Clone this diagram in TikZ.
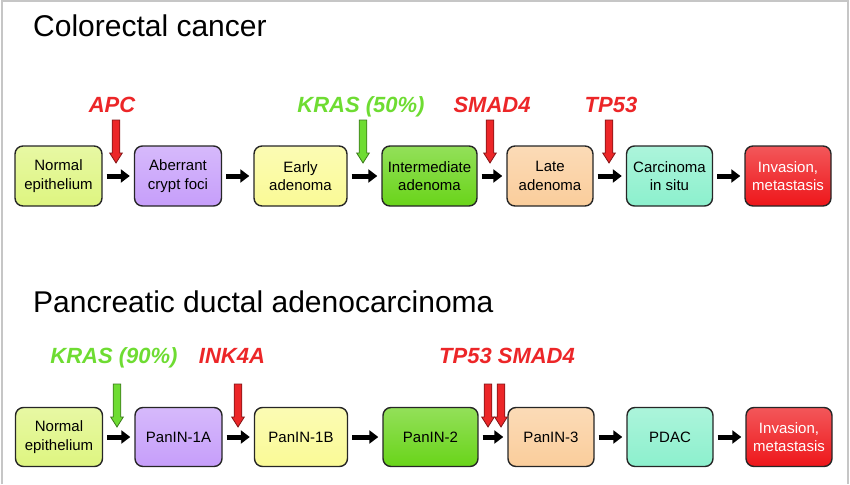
\documentclass[tikz,border=0pt]{standalone}
\usepackage{fontspec}
\setmainfont{Liberation Sans}
\usepackage{tikz}
\usetikzlibrary{calc,arrows.meta}
\usepackage{xcolor}

\definecolor{normcol}{RGB}{222,245,128}
\definecolor{acfcol}{RGB}{198,158,250}
\definecolor{earlycol}{RGB}{250,250,150}
\definecolor{midcol}{RGB}{105,212,25}
\definecolor{latecol}{RGB}{250,205,155}
\definecolor{situcol}{RGB}{140,240,205}
\definecolor{invcol}{RGB}{238,22,26}
\definecolor{hitred}{RGB}{236,38,40}
\definecolor{hitgreen}{RGB}{110,220,50}

\tikzset{
  stage/.style={draw=black!85, line width=1.4pt, rounded corners=8pt,
    minimum width=87pt, minimum height=60pt, inner sep=0pt, align=center,
    font=\fontsize{15}{18.5}\selectfont, top color=#1!72!white, bottom color=#1},
  flow/.style={-{Triangle[length=9pt,width=13pt]}, line width=5pt,
    shorten <=4pt, shorten >=4pt},
  hitlabel/.style={anchor=base, inner sep=0pt, text=#1,
    font=\fontsize{22}{24}\selectfont\bfseries\itshape},
  pics/hit/.style={code={
    \draw[draw=#1!55!black, fill=#1, line width=0.8pt, line join=miter]
      (-3.8,0)--(3.8,0)--(3.8,33)--(6.3,33)--(0,43)--(-6.3,33)--(-3.8,33)--cycle;}},
  heading/.style={anchor=base west, inner sep=0pt, font=\fontsize{30}{32}\selectfont}
}

\begin{document}
\begin{tikzpicture}[x=1pt,y=-1pt]
% row heights
\newcommand{\rowA}{176}
\newcommand{\rowB}{437}
\newcommand{\hitA}{120}
\newcommand{\hitB}{384}

% Frame
\useasboundingbox (0,0) rectangle (850,484);
\draw[gray!45, line width=1.5pt] (2,484)--(2,1)--(848,1)--(848,484);

% Colorectal cancer
\node[heading] (crc) at (33,37) {Colorectal cancer};
\node[stage=normcol] (crcA) at (58.5,\rowA) {Normal\\epithelium};
\node[stage=acfcol] (crcB) at (178,\rowA) {Aberrant\\crypt foci};
\node[stage=earlycol, minimum width=93pt] (crcC) at (300.5,\rowA) {Early\\adenoma};
\node[stage=midcol, minimum width=95pt] (crcD) at (429.5,\rowA) {Intermediate\\adenoma};
\node[stage=latecol, minimum width=86pt] (crcE) at (550,\rowA) {Late\\adenoma};
\node[stage=situcol, minimum width=86pt] (crcF) at (669.5,\rowA) {Carcinoma\\in situ};
\node[stage=invcol, text=white, minimum width=86pt] (crcG) at (788,\rowA) {Invasion,\\metastasis};
\draw[flow] (crcA)--(crcB);
\draw[flow] (crcB)--(crcC);
\draw[flow] (crcC)--(crcD);
\draw[flow] (crcD)--(crcE);
\draw[flow] (crcE)--(crcF);
\draw[flow] (crcF)--(crcG);
% Mutations
\node[hitlabel=hitred] (apc) at (112,112) {APC};
\pic (apcArr) at (116,\hitA) {hit=hitred};
\node[hitlabel=hitgreen] (krasA) at (361,112) {KRAS (50\%)};
\pic (krasAArr) at (363,\hitA) {hit=hitgreen};
\node[hitlabel=hitred] (smadA) at (492,112) {SMAD4};
\pic (smadAArr) at (490,\hitA) {hit=hitred};
\node[hitlabel=hitred] (tpA) at (611,112) {TP53};
\pic (tpAArr) at (609,\hitA) {hit=hitred};

% Pancreatic ductal adenocarcinoma
\node[heading] (pdac) at (33,312) {Pancreatic ductal adenocarcinoma};
\node[stage=normcol, minimum height=59pt] (panA) at (59,\rowB) {Normal\\epithelium};
\node[stage=acfcol, minimum height=59pt] (panB) at (178.5,\rowB) {PanIN-1A};
\node[stage=earlycol, minimum height=59pt, minimum width=93pt] (panC) at (301,\rowB) {PanIN-1B};
\node[stage=midcol, minimum height=59pt, minimum width=95pt] (panD) at (430.5,\rowB) {PanIN-2};
\node[stage=latecol, minimum height=59pt, minimum width=86pt] (panE) at (551,\rowB) {PanIN-3};
\node[stage=situcol, minimum height=59pt, minimum width=86pt] (panF) at (670,\rowB) {PDAC};
\node[stage=invcol, text=white, minimum height=59pt, minimum width=86pt] (panG) at (789,\rowB) {Invasion,\\metastasis};
\draw[flow] (panA)--(panB);
\draw[flow] (panB)--(panC);
\draw[flow] (panC)--(panD);
\draw[flow] (panD)--(panE);
\draw[flow] (panE)--(panF);
\draw[flow] (panF)--(panG);
% Mutations
\node[hitlabel=hitgreen] (krasB) at (114,363) {KRAS (90\%)};
\pic (krasBArr) at (117,\hitB) {hit=hitgreen};
\node[hitlabel=hitred] (ink) at (232,363) {INK4A};
\pic (inkArr) at (238,\hitB) {hit=hitred};
\node[hitlabel=hitred] (tpsmad) at (507,363) {TP53 SMAD4};
\pic (tpBArr) at (488,\hitB) {hit=hitred};
\pic (smadBArr) at (501,\hitB) {hit=hitred};
\end{tikzpicture}
\end{document}
